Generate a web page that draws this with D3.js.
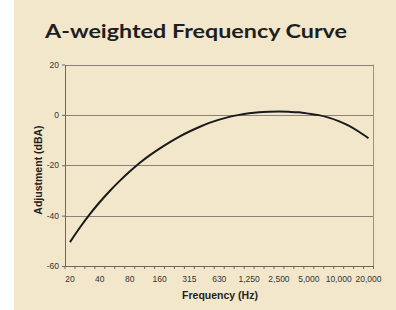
<!DOCTYPE html>
<html>
<head>
<meta charset="utf-8">
<script src="https://cdn.jsdelivr.net/npm/d3@7"></script>
<style>
  html, body { margin: 0; padding: 0; background: #ffffff; }
  svg { display: block; }
</style>
</head>
<body>
<svg id="chart" width="396" height="310"></svg>
<script>
// Third-octave band centres (Hz) and A-weighting adjustment (dB)
const bands = [20, 25, 31.5, 40, 50, 63, 80, 100, 125, 160, 200, 250, 315, 400, 500, 630,
    800, 1000, 1250, 1600, 2000, 2500, 3150, 4000, 5000, 6300, 8000, 10000, 12500, 16000, 20000];
const adjustment = [-50.5, -44.7, -39.4, -34.6, -30.2, -26.2, -22.5, -19.1, -16.1, -13.4, -10.9,
    -8.6, -6.6, -4.8, -3.2, -1.9, -0.8, 0, 0.6, 1.0, 1.2, 1.3, 1.2, 1.0, 0.5, -0.1, -1.1,
    -2.5, -4.3, -6.6, -9.3];
const xLabels = ['20', '40', '80', '160', '315', '630', '1,250', '2,500', '5,000', '10,000', '20,000'];
const yTicks = [-60, -40, -20, 0, 20];

const svg = d3.select('#chart');
const width = 396, height = 310;

// beige panel (white strip on the left)
svg.append('rect')
    .attr('x', 14).attr('y', 0)
    .attr('width', width - 14).attr('height', height)
    .attr('fill', '#f2e7ca');

const plot = { left: 65, right: 373.5, top: 64.5, bottom: 266 };

const x = d3.scaleBand()
    .domain(bands.map(String))
    .range([plot.left, plot.right])
    .padding(0);

const y = d3.scaleLinear()
    .domain([-60, 20])
    .range([plot.bottom, plot.top]);

// Title
svg.append('text')
    .attr('x', 196)
    .attr('y', 38)
    .attr('text-anchor', 'middle')
    .attr('textLength', 302)
    .attr('lengthAdjust', 'spacingAndGlyphs')
    .style('font-family', 'Lato, "DejaVu Sans", sans-serif')
    .style('font-weight', 'bold')
    .style('font-size', '19px')
    .style('fill', '#1e1e1e')
    .text('A-weighted Frequency Curve');

// Horizontal gridlines
svg.append('g')
    .selectAll('line')
    .data(yTicks.filter(d => d > -60))
    .enter()
    .append('line')
    .attr('x1', plot.left)
    .attr('x2', plot.right)
    .attr('y1', d => Math.round(y(d)) + 0.5)
    .attr('y2', d => Math.round(y(d)) + 0.5)
    .style('stroke', '#8a8276')
    .style('stroke-width', 1);

// Right border of plot area
svg.append('line')
    .attr('x1', plot.right).attr('x2', plot.right)
    .attr('y1', plot.top).attr('y2', plot.bottom)
    .style('stroke', '#9a9284')
    .style('stroke-width', 1);

// Y axis
const yAxis = svg.append('g')
    .attr('transform', `translate(${plot.left},0)`)
    .call(d3.axisLeft(y).tickValues(yTicks).tickSize(3).tickSizeOuter(0));
yAxis.select('.domain').style('stroke', '#6e675d');
yAxis.selectAll('.tick line').style('stroke', '#6e675d');
yAxis.selectAll('.tick text')
    .attr('x', -6)
    .style('font-family', '"Liberation Sans", Arial, sans-serif')
    .style('font-size', '8.5px')
    .style('fill', '#333')
    .text(d => d < 0 ? '-' + Math.abs(d) : d);

// X axis: ticks at band boundaries
const xg = svg.append('g');
xg.append('line')
    .attr('x1', plot.left).attr('x2', plot.right)
    .attr('y1', plot.bottom + 0.5).attr('y2', plot.bottom + 0.5)
    .style('stroke', '#6e675d');
const boundaries = bands.map(b => x(String(b))).concat([plot.right]);
xg.selectAll('line.tick')
    .data(boundaries)
    .enter()
    .append('line')
    .attr('class', 'tick')
    .attr('x1', d => d).attr('x2', d => d)
    .attr('y1', plot.bottom).attr('y2', plot.bottom + 3)
    .style('stroke', '#6e675d');

const labelled = bands.filter((b, i) => i % 3 === 0);
xg.selectAll('text')
    .data(labelled)
    .enter()
    .append('text')
    .attr('x', d => x(String(d)) + x.bandwidth() / 2)
    .attr('y', plot.bottom + 16)
    .attr('text-anchor', 'middle')
    .style('font-family', '"Liberation Sans", Arial, sans-serif')
    .style('font-size', '8.5px')
    .style('fill', '#333')
    .text((d, i) => xLabels[i]);

// Axis titles
svg.append('text')
    .attr('x', 220)
    .attr('y', 299)
    .attr('text-anchor', 'middle')
    .style('font-family', '"Liberation Sans", Arial, sans-serif')
    .style('font-weight', 'bold')
    .style('font-size', '10.5px')
    .style('fill', '#222')
    .text('Frequency (Hz)');

svg.append('text')
    .attr('transform', 'translate(41.5,170) rotate(-90)')
    .attr('text-anchor', 'middle')
    .style('font-family', '"Liberation Sans", Arial, sans-serif')
    .style('font-weight', 'bold')
    .style('font-size', '10.5px')
    .style('fill', '#222')
    .text('Adjustment (dBA)');

// Curve
const line = d3.line()
    .x((d, i) => x(String(bands[i])) + x.bandwidth() / 2)
    .y(d => y(d))
    .curve(d3.curveMonotoneX);

svg.append('path')
    .datum(adjustment)
    .attr('d', line)
    .style('fill', 'none')
    .style('stroke', '#1a1a1a')
    .style('stroke-width', 2);
</script>
</body>
</html>
